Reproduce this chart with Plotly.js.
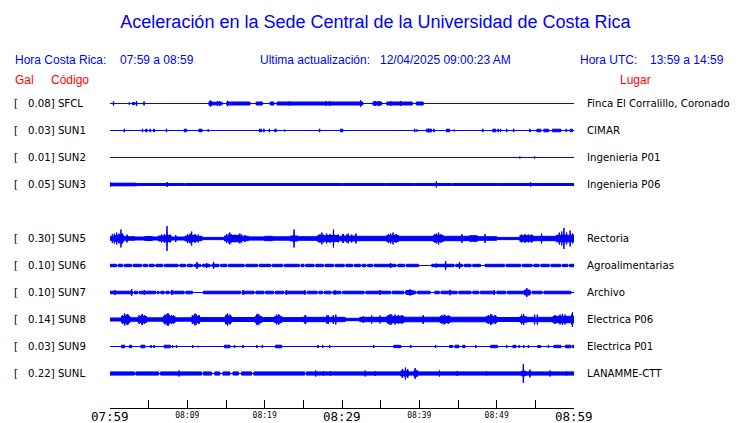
<!DOCTYPE html>
<html><head><meta charset="utf-8">
<script src="https://cdn.plot.ly/plotly-3.0.1.min.js"></script>
<style>html,body{margin:0;padding:0;background:#fff}#chart{width:740px;height:423px}</style>
</head><body><div id="chart"></div>
<script>
// ---------- DATA (time in minutes after 07:59, envelope half-heights in trace units) ----------
const codes  = ['SFCL','SUN1','SUN2','SUN3','SUN5','SUN6','SUN7','SUN8','SUN9','SUNL'];
const gals   = ['0.08','0.03','0.01','0.05','0.30','0.10','0.10','0.14','0.03','0.22'];
const places = ['Finca El Corralillo, Coronado','CIMAR','Ingenieria P01','Ingenieria P06','Rectoria',
                'Agroalimentarias','Archivo','Electrica P06','Electrica P01','LANAMME-CTT'];
const rowIdx = [0,1,2,3,5,6,7,8,9,10];
const tickMinutes = [0,5,10,15,20,25,30,35,40,45,50,55,60];
const tickSmall   = ['','','08:09','','08:19','','','','08:39','','08:49','',''];
const tickBig     = ['07:59','08:29','08:59'];
const tickBigMin  = [0,30,60];

// base band half-height
const baseAmp = [0,0,0,1.0,0,1.2,1.3,0,0,1.6];

// SFCL
const sfclGaps = [];
const sfclSeg = [[2.9,3.2,1],[12.8,13.2,1.8],[13.2,14.5,1.3],[15.1,18.1,1.5],[18.9,19.7,1.5],[20.7,21.2,1.5],
                 [21.6,32.7,1.5],[34.0,35.1,1.6],[35.8,39.1,1.5],[39.6,40.5,1.5]];
const sfclSpk = [[0.45,2],[2.5,1.2],[3.43,2.5],[4.4,2],[13.0,3],[13.9,2.5],[14.2,2.5],[15.2,2.8],[23.2,2.2],
                 [27.9,2.5],[28.4,2.5],[32.4,3.4],[34.3,2.5],[34.8,2.5],[36.3,2.2],[37.6,2.5]];
// SUN1
const sun1Gaps = [];
const sun1Seg = [[4.6,4.8,1.3],[9.6,9.9,1.3],[11.5,11.9,1.3],[19.3,19.6,1.3],[21.3,21.5,1.3],[29.8,30.1,1.3],
                 [40.9,41.6,1.3],[43.5,43.9,1.3],[49.5,49.9,1.3],[55.2,55.7,1.3],[56.1,56.7,1.3],[57.2,58.3,1.3],[59.5,59.8,1.3]];
const sun1Spk = [[1.85,1.7],[4.2,1.7],[5.2,1.7],[5.7,1.7],[7.3,1.7],[12.7,1.2],[19.9,1.7],[20.6,1.7],[22.6,0.9],
                 [27.1,1.7],[39.4,1.7],[39.7,1.2],[41.2,1.8],[41.9,1.7],[44.5,0.9],[48.2,1.7],[50.2,1.7],[50.5,1.7],
                 [51.3,1.7],[52.2,1.7],[54.3,1.7],[59.0,1.7]];
// SUN2
const sun2Gaps = [];
const sun2Seg = [];
const sun2Spk = [[53.0,1],[54.9,1]];
// SUN3
const sun3Gaps = [[3.45,3.55],[9.55,9.65],[29.95,30.05],[35.65,35.75],[39.25,39.35],[44.15,44.25],[50.15,50.25]];
const sun3Seg = [[0,3.45,1.3]];
const sun3Spk = [[0.05,2],[7.4,2.5],[42.2,3],[54.4,2.2]];
// SUN5
const sun5Gaps = [];
const sun5Seg = [[0,0.65,1.8],[0.65,1.1,2.8],[1.1,1.75,3.3],[1.75,3.2,1.8],[3.2,4.5,1.5],[4.5,5.5,2],[5.5,6.25,1.5],
                 [6.25,7.1,2.5],[7.1,7.9,3],[7.9,9.7,1.5],[9.7,10.3,2.5],[10.3,11.2,3],[11.2,11.9,2.2],[11.9,14.8,1.1],
                 [14.8,15.5,2.5],[15.5,16.5,3],[16.5,17.9,2.2],[17.9,20,1.6],[20,21,2.2],[21,23.3,1.7],[23.3,24.3,2.5],
                 [24.3,26.8,1.8],[26.8,28,2.8],[28,29.5,3],[29.5,30.3,2.2],[30.3,31.9,2.5],[31.9,35.8,2.2],[35.8,37.3,3],
                 [37.3,41.8,2.2],[41.8,43.1,3],[43.1,46.5,2.2],[46.5,47.5,2.8],[47.5,50,1.8],[50,53,1.1],[53,54.7,2.8],
                 [54.7,57.7,2.2],[57.7,60,3.3]];
const sun5Spk = [[0.3,4.5],[0.56,5],[0.86,6],[1.16,5],[1.42,9],[1.6,5],[2.2,4],[6.68,4],[7.03,4.5],[7.37,12.5],[7.76,4],
                 [8.5,3.5],[10.04,4.5],[10.35,5],[10.56,7],[10.99,4.5],[11.42,4],[15.09,4.5],[15.39,5],[15.5,6],[15.73,4.5],
                 [16.16,4],[16.6,4],[16.8,5],[17.03,4],[17.46,3.5],[23.8,9],[27.15,4.5],[27.4,6],[27.59,4],[28.02,5],
                 [28.45,4.5],[28.9,9],[29.53,4],[30.05,4],[30.17,4.5],[30.6,4],[30.8,5],[31.25,4],[31.8,5],[35.99,4.5],
                 [36.29,5],[36.6,6],[36.98,4.5],[42.03,4.5],[42.24,5],[42.5,6],[42.8,4.5],[45.5,4.5],[48.5,4.5],[53.23,4],
                 [53.67,4.5],[54.1,4],[54.53,4],[55.8,5],[58.1,6],[58.41,7],[58.7,10.5],[59.05,6],[59.5,8],[59.83,5]];
// SUN6
const sun6Gaps = [[0.83,1.07],[1.6,1.84],[2.77,3.01],[4.06,4.3],[4.84,5.08],[5.7,5.94],[6.78,7.02],[8.8,9.04],
                  [9.78,10.02],[10.66,10.9],[11.73,11.97],[12.94,13.18],[14.08,14.32],[15.08,15.32],[17.34,17.58],
                  [19.08,19.32],[20.78,21.02],[22.28,22.52],[24.48,24.72],[25.08,25.32],[26.38,26.62],[27.58,27.82],
                  [28.88,29.12],[30.28,30.52],[31.38,31.62],[32.38,32.62],[33.08,33.32],[33.93,34.17],[36.98,37.22],
                  [38.08,38.32],[39.9,41.6],[44.48,44.72],[45.58,45.82],[46.68,46.92],[47.9,48.5],[50.98,51.22],
                  [53.08,53.32],[54.58,54.82],[55.48,55.72],[56.78,57.02],[58.28,58.52],[59.18,59.42]];
const sun6Seg = [];
const sun6Spk = [[11.25,3.5],[12.5,2.5],[13.4,3.5],[36.3,2.5],[42.2,2],[43.4,4.5],[45.2,3.5]];
// SUN7
const sun7Gaps = [[2.9,3.14],[3.54,3.78],[5.91,6.15],[6.34,6.58],[6.99,7.23],[7.64,7.88],[9.58,9.82],[10.65,12.07],
                  [16.88,17.12],[18.63,18.87],[19.88,20.12],[21.13,21.37],[22.48,22.72],[25.3,25.5],[26.78,27.02],
                  [27.48,27.72],[28.58,28.82],[29.84,30.08],[32.85,33.09],[36.28,36.52],[37.98,38.22],[39.54,39.78],
                  [41.4,42.0],[42.58,42.82],[44.88,45.12],[46.68,46.92],[47.68,47.92],[49.78,50.02],[51.18,51.42],
                  [54.4,54.6],[55.88,56.12],[59.6,60]];
const sun7Seg = [[38.3,39.2,2.0],[53.6,54.3,2.5]];
const sun7Spk = [[0.65,2.5],[2.8,3.5],[4.44,2.5],[8.0,2.5],[17.2,2.5],[22.8,2.5],[25.2,2.2],[29.1,2.2],[34.9,2.5],
                 [38.8,3.2],[43.97,2.8],[49.7,2.5],[53.9,4.5]];
// SUN8
const sun8Gaps = [];
const sun8Seg = [[0,1.5,1.5],[1.5,2.6,3],[2.6,3.66,1.7],[3.66,4.74,3],[4.74,6.9,1.7],[6.9,8.4,3.2],[8.4,10.6,1.7],
                 [10.6,11.6,2.9],[11.6,14.9,1.9],[14.9,15.7,3.3],[15.7,18.75,2],[18.75,19.6,3.2],[19.6,21.3,2],
                 [21.3,22.2,3.2],[22.2,24.8,1.9],[24.8,30.4,2.2],[30.4,32.3,1.2],[32.3,35.8,2.2],[35.8,38,3.2],
                 [38,42.7,2.3],[42.7,44,3],[44,48.7,2.3],[48.7,50,3.2],[50,53,2],[53,53.9,2.7],[53.9,57.3,2.2],[57.3,60,3.2]];
const sun8Spk = [[1.6,4.5],[1.85,5],[1.9,6],[2.11,5],[2.3,5.5],[2.37,4.5],[3.79,4.5],[4.09,5],[4.2,5.5],[4.44,4.5],
                 [7.11,5],[7.37,5.5],[7.5,6.5],[7.63,5],[7.97,4.5],[8.23,4],[10.65,4.5],[10.9,5],[11,6],[11.2,5],[11.51,4.5],
                 [15.0,5],[15.2,6.2],[15.22,5],[15.52,5],[18.96,5],[19.1,5.8],[19.27,5],[21.55,5],[21.8,5.5],[21.86,4.5],
                 [25.2,4],[25.3,4.5],[28.02,4],[28.2,4.5],[28.88,4.5],[29.2,5],[32.76,3.5],[33.84,4],[34.92,4],[35.99,4.5],
                 [36.2,5.5],[36.42,5],[36.86,5],[37.29,4.5],[37.72,4.5],[40.5,4.5],[42.89,4.5],[43.2,5],[43.32,4.5],
                 [43.75,4.5],[48.93,4.5],[49.2,5.5],[49.36,5],[49.79,4.5],[53.23,5],[53.5,5.5],[54.9,5],[55.26,5],
                 [57.54,4.5],[58.19,5],[58.5,5.5],[58.84,5],[59.7,5],[59.8,7.5]];
// SUN9
const sun9Gaps = [];
const sun9Seg = [[1.5,1.9,1.3],[2.5,2.8,1.2],[4.0,4.5,1.3],[7.0,7.8,1.3],[14.8,15.5,1.3],[21.4,22.2,1.3],[36.7,37.6,1.2],
                 [43.9,44.3,1.0],[44.6,45.1,1.3],[45.6,45.9,1.2],[49.2,50.1,1.2],[52.1,52.5,1.2],[55.3,55.7,1.0],
                 [57.4,58.3,1.2],[58.9,59.6,1.3],[59.8,60,1.2]];
const sun9Spk = [[5.3,1.5],[5.7,1.5],[8.1,1.5],[8.6,1.5],[10.7,1.5],[11.4,0.8],[16.1,1.5],[17.2,1.5],[19.0,1.5],[19.7,1.5],
                 [26.9,1.5],[27.5,1.5],[28.4,1.5],[34.1,1.5],[38.9,1.5],[42.1,1.5],[47.3,1.5],[51.3,1.5],[52.9,1.5],
                 [53.5,1.5],[54.1,1.5],[56.7,1.5]];
// SUNL
const sunlGaps = [[3.15,3.35],[6.3,6.55],[11.85,12.07],[13.15,13.55],[14.2,14.6],[15.5,15.9],[16.6,17.0],[18.3,18.6],[25.2,25.4]];
const sunlSeg = [[37.6,38.6,2.5],[39.3,39.8,2.8],[53.2,53.8,2.2]];
const sunlSpk = [[8.92,3],[26.6,3],[27.6,2.2],[28.5,2.2],[33.0,3],[34.3,2.5],[37.8,4.5],[38.2,6],[38.5,4.5],[39.45,5.5],
                 [42.6,3],[44.9,2.5],[48.7,2],[53.45,9.5],[54.3,4],[56.9,3],[59.05,2]];

const allGaps = [sfclGaps,sun1Gaps,sun2Gaps,sun3Gaps,sun5Gaps,sun6Gaps,sun7Gaps,sun8Gaps,sun9Gaps,sunlGaps];
const allSeg  = [sfclSeg,sun1Seg,sun2Seg,sun3Seg,sun5Seg,sun6Seg,sun7Seg,sun8Seg,sun9Seg,sunlSeg];
const allSpk  = [sfclSpk,sun1Spk,sun2Spk,sun3Spk,sun5Spk,sun6Spk,sun7Spk,sun8Spk,sun9Spk,sunlSpk];

// ---------- DRAWING ----------
const BLUE = 'rgb(0,0,255)';
const ROW = 27, T0 = 0, T1 = 60, SPW = 0.07;
const traces = [];
function rect(xs, ys, t0, t1, off, a){
  xs.push(t0,t0,t1,t1,t0,null); ys.push(off-a,off+a,off+a,off-a,off-a,null);
}
codes.forEach((c, k) => {
  const off = -ROW * rowIdx[k];
  const xs = [], ys = [];
  if (baseAmp[k] > 0){
    let s = T0;
    allGaps[k].forEach(g => { if (g[0] > s) rect(xs, ys, s, g[0], off, baseAmp[k]); s = g[1]; });
    if (s < T1) rect(xs, ys, s, T1, off, baseAmp[k]);
  }
  allSeg[k].forEach(g => rect(xs, ys, g[0], g[1], off, g[2]));
  allSpk[k].forEach(p => { xs.push(p[0]-SPW, p[0], p[0]+SPW, p[0], p[0]-SPW, null); ys.push(off, off+p[1], off, off-p[1], off, null); });
  traces.push({x:[T0,T1], y:[off,off], mode:'lines', line:{color:BLUE, width:1}, hoverinfo:'skip', showlegend:false});
  if (xs.length) traces.push({x:xs, y:ys, mode:'lines', fill:'toself', fillcolor:BLUE, line:{color:BLUE, width:1},
                              hoverinfo:'skip', showlegend:false});
});

// ---------- LAYOUT / TEXT ----------
const W = 740, H = 423, L = 110, R = 166, TOP = 90, BOT = 14;
const pw = W - L - R, ph = H - TOP - BOT;
const px = x => (x - L) / pw, py = y => (H - BOT - y) / ph;
const ann = [];
function txt(text, x, y, color, size, family, anchor){
  ann.push({text, x:px(x), y:py(y), xref:'paper', yref:'paper', xanchor:anchor||'left', yanchor:'middle',
            showarrow:false, borderpad:0, borderwidth:0, font:{color, size, family}});
}
const SANS = 'Liberation Sans, Arial, sans-serif', DJ = 'DejaVu Sans, sans-serif', MONO = 'DejaVu Sans Mono, monospace';
txt('Hora Costa Rica:', 15, 60.5, BLUE, 12, SANS);
txt('07:59 a 08:59', 120, 60.5, BLUE, 12, SANS);
txt('Ultima actualización:', 260, 60.5, BLUE, 12, SANS);
txt('12/04/2025 09:00:23 AM', 380, 60.5, BLUE, 12, SANS);
txt('Hora UTC:', 580, 60.5, BLUE, 12, SANS);
txt('13:59 a 14:59', 650, 60.5, BLUE, 12, SANS);
txt('Gal', 15, 79.5, 'rgb(255,0,0)', 12, SANS);
txt('Código', 51, 79.5, 'rgb(255,0,0)', 12, SANS);
txt('Lugar', 620, 79.5, 'rgb(255,0,0)', 12, SANS);
codes.forEach((c, k) => {
  const y = 103.5 + ROW * rowIdx[k];
  txt('[', 13.5, y, '#000', 10.2, DJ);
  txt(gals[k] + '] ' + c, 27.5, y, '#000', 10.2, DJ);
  txt(places[k], 587, y, '#000', 10.2, DJ);
});
tickBig.forEach((t, i) => ann.push({text:t, x:tickBigMin[i], y:py(416.5), xref:'x', yref:'paper', xanchor:'center',
  yanchor:'middle', showarrow:false, borderpad:0, borderwidth:0, font:{color:'#000', size:12.5, family:MONO}}));

const layout = {
  width: W, height: H, margin:{l:L, r:R, t:TOP, b:BOT, pad:0},
  paper_bgcolor:'#fff', plot_bgcolor:'#fff', showlegend:false,
  title:{text:'Aceleración en la Sede Central de la Universidad de Costa Rica', x:375.5/W, xref:'container', xanchor:'center',
         y:1 - 21.5/H, yref:'container', yanchor:'middle', font:{family:SANS, size:18, color:BLUE}},
  xaxis:{range:[T0,T1], showgrid:false, zeroline:false, showline:false,
         ticks:'inside', ticklen:9, tickwidth:1, tickcolor:'#000', tickmode:'array', tickvals:tickMinutes,
         ticktext:tickSmall, tickfont:{family:MONO, size:8, color:'#000'}, fixedrange:true},
  yaxis:{range:[-(H - BOT - 103.5), 103.5 - TOP], visible:false, fixedrange:true},
  shapes:[{type:'line', xref:'x', yref:'paper', x0:T0, x1:T1, y0:0.5/ph, y1:0.5/ph,
           line:{color:'#000', width:1.2}, layer:'above'}],
  annotations: ann
};
Plotly.newPlot('chart', traces, layout, {staticPlot:true, displayModeBar:false});
</script></body></html>
